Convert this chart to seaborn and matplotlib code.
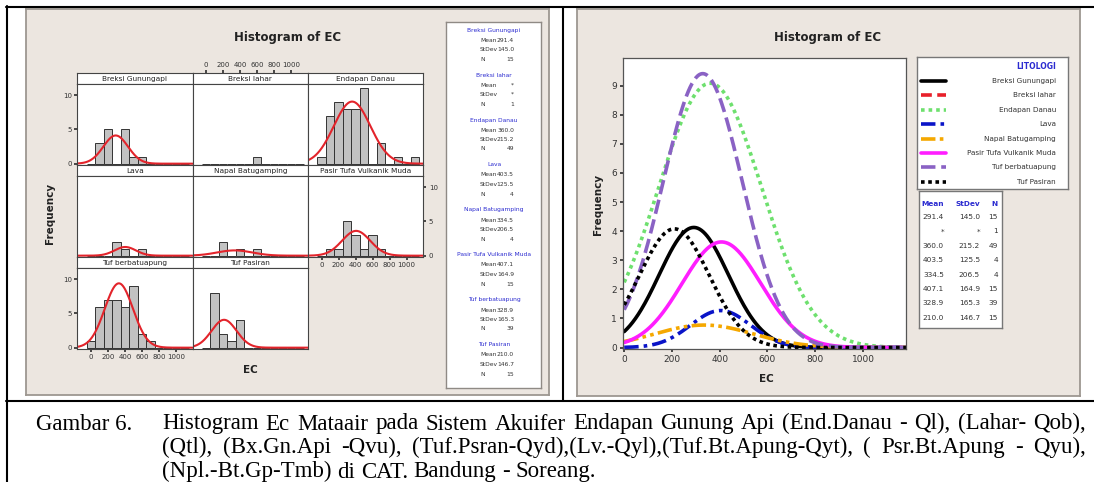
import numpy as np
import pandas as pd
import seaborn as sns
import matplotlib.pyplot as plt
from matplotlib.lines import Line2D

sns.set_theme(style='white')
plt.rcParams['font.family'] = ['DejaVu Sans']

W, H = 1094, 482

# values
lithology = ['Breksi Gunungapi', 'Breksi lahar', 'Endapan Danau', 'Lava',
             'Napal Batugamping', 'Pasir Tufa Vulkanik Muda', 'Tuf berbatuapung', 'Tuf Pasiran']
mean_txt = ['291.4', '*', '360.0', '403.5', '334.5', '407.1', '328.9', '210.0']
sd_txt = ['145.0', '*', '215.2', '125.5', '206.5', '164.9', '165.3', '146.7']
n_obs = [15, 1, 49, 4, 4, 15, 39, 15]

bin_mid = [0, 100, 200, 300, 400, 500, 600, 700, 800, 900, 1000, 1100]
counts_breksi_gunungapi = [0, 3, 5, 0, 5, 1, 1, 0, 0, 0, 0, 0]
counts_breksi_lahar = [0, 0, 0, 0, 0, 0, 1, 0, 0, 0, 0, 0]
counts_endapan_danau = [1, 7, 9, 8, 8, 11, 0, 3, 0, 1, 0, 1]
counts_lava = [0, 0, 0, 2, 1, 0, 1, 0, 0, 0, 0, 0]
counts_napal = [0, 0, 2, 0, 1, 0, 1, 0, 0, 0, 0, 0]
counts_pasir = [0, 1, 1, 5, 3, 1, 3, 1, 0, 0, 0, 0]
counts_tuf_berbatuapung = [1, 6, 7, 7, 6, 9, 2, 1, 0, 0, 0, 0]
counts_tuf_pasiran = [0, 8, 2, 1, 4, 0, 0, 0, 0, 0, 0, 0]
panel_counts = [counts_breksi_gunungapi, counts_breksi_lahar, counts_endapan_danau, counts_lava,
                counts_napal, counts_pasir, counts_tuf_berbatuapung, counts_tuf_pasiran]

line_colors = ['#000000', '#e8202a', '#6ee06e', '#0a14c8', '#f5a800', '#ff1eff', '#8a62c4', '#000000']
line_dashes = ['', (3, 1.5), (1, 1.1), (4, 1.4, 1, 1.4), (4, 1.2, 1, 1.2, 1, 1.2), '', (4, 1.6), (1, 1)]

caption_lines = [
    'Histogram Ec Mataair pada Sistem Akuifer Endapan Gunung Api (End.Danau - Ql), (Lahar- Qob),',
    '(Qtl), (Bx.Gn.Api -Qvu), (Tuf.Psran-Qyd),(Lv.-Qyl),(Tuf.Bt.Apung-Qyt), ( Psr.Bt.Apung - Qyu),',
    '(Npl.-Bt.Gp-Tmb) di CAT. Bandung - Soreang.',
]

BEIGE = '#ece6e0'
BLUE = '#2b2bd0'


def box(x0, y0, x1, y1):
    return [x0 / W, 1 - y1 / H, (x1 - x0) / W, (y1 - y0) / H]


def fx(x):
    return x / W


def fy(y):
    return 1 - y / H


def normal_fit(xs, mean, sd, n):
    return n * 100 * np.exp(-0.5 * ((xs - mean) / sd) ** 2) / (sd * np.sqrt(2 * np.pi))


def plain(ax, edge='#8f8a85', lw=1.0):
    ax.set_xticks([])
    ax.set_yticks([])
    for s in ax.spines.values():
        s.set_color(edge)
        s.set_linewidth(lw)


fig = plt.figure(figsize=(W / 100, H / 100), dpi=100)

# beige chart backgrounds
for rect in [(26, 9.5, 549, 395), (577, 9.5, 1080, 396)]:
    bg = fig.add_axes(box(*rect))
    bg.set_facecolor(BEIGE)
    plain(bg, '#9d9791', 1.3)

# ---------------- left chart: paneled histograms ----------------
fig.text(fx(288), fy(37), 'Histogram of EC', ha='center', va='center', fontsize=8.5, fontweight='bold', color='#222')
fig.text(fx(50), fy(213), 'Frequency', rotation=90, ha='center', va='center', fontsize=7.5, fontweight='bold', color='#222')
fig.text(fx(250), fy(370), 'EC', ha='center', va='center', fontsize=7.5, fontweight='bold', color='#222')

edges = list(range(-50, 1200, 100))
xlim_l = (-160, 1196)
grid_l = np.linspace(xlim_l[0], xlim_l[1], 300)
cols_x = [77.3, 192.6, 307.9]
pw = 115.3
strip_h, plot_h = 11, 81
top0 = 72.7
xt = [0, 200, 400, 600, 800, 1000]

for i, name in enumerate(lithology):
    r, c = divmod(i, 3)
    x0 = cols_x[c]
    ys = top0 + r * (strip_h + plot_h)
    sax = fig.add_axes(box(x0, ys, x0 + pw, ys + strip_h))
    sax.set_facecolor('white')
    plain(sax, '#444444', 0.8)
    sax.set_xlim(xlim_l)
    sax.text(0.5, 0.45, name, transform=sax.transAxes, ha='center', va='center', fontsize=5.3, color='#222')

    pax = fig.add_axes(box(x0, ys + strip_h, x0 + pw, ys + strip_h + plot_h))
    pax.set_facecolor('white')
    hist_df = pd.DataFrame({'EC': bin_mid, 'count': panel_counts[i]})
    sns.histplot(data=hist_df, x='EC', weights='count', bins=edges, ax=pax,
                 color='#c2c2c2', edgecolor='#333333', linewidth=0.7, alpha=1)
    if sd_txt[i] != '*':
        fit = normal_fit(grid_l, float(mean_txt[i]), float(sd_txt[i]), n_obs[i])
        sns.lineplot(x=grid_l, y=fit, ax=pax, color='#e3242b', linewidth=1.5)
    pax.set_xlim(xlim_l)
    pax.set_ylim(-0.15, 11.7)
    pax.set(xlabel='', ylabel='')
    pax.set_xticks(xt)
    pax.set_yticks([0, 5, 10])
    pax.tick_params(length=0, labelbottom=False, labelleft=False, labelsize=5, colors='#333333', pad=1.5)
    for s in pax.spines.values():
        s.set_color('#444444')
        s.set_linewidth(0.8)
    if c == 0 and r in (0, 2):
        pax.tick_params(axis='y', left=True, length=2.5, labelleft=True)
    if r == 1 and c == 2:
        pax.tick_params(axis='y', right=True, length=2.5, labelright=True)
    if (r == 2 and c == 0) or (r == 1 and c == 2):
        pax.tick_params(axis='x', bottom=True, length=2.5, labelbottom=True)
    if r == 0 and c == 1:
        sax.set_xticks(xt)
        sax.tick_params(axis='x', top=True, labeltop=True, bottom=False, labelbottom=False,
                        length=2.5, labelsize=5, colors='#333333', pad=1)

# summary box on the right of the left chart
bax = fig.add_axes(box(446, 22, 541, 388))
bax.set_facecolor('white')
plain(bax, '#8f8a85', 1.0)
bax.set_xlim(446, 541)
bax.set_ylim(388, 22)
for i, name in enumerate(lithology):
    y0 = 30 + i * 45
    bax.text(494, y0, name, ha='center', va='center', fontsize=4.3, color=BLUE)
    for k, (lab, val) in enumerate([('Mean', mean_txt[i]), ('StDev', sd_txt[i]), ('N', str(n_obs[i]))]):
        bax.text(480, y0 + 10 + k * 9.5, lab, ha='left', va='center', fontsize=4.3, color='#333')
        bax.text(514, y0 + 10 + k * 9.5, val, ha='right', va='center', fontsize=4.3, color='#333')

# ---------------- right chart: fitted normal curves ----------------
fig.text(fx(828), fy(37), 'Histogram of EC', ha='center', va='center', fontsize=8.5, fontweight='bold', color='#222')
fig.text(fx(598), fy(204), 'Frequency', rotation=90, ha='center', va='center', fontsize=7.5, fontweight='bold', color='#222')
fig.text(fx(766), fy(379), 'EC', ha='center', va='center', fontsize=7.5, fontweight='bold', color='#222')

grid_r = np.linspace(0, 1180, 300)
rows = []
for i, name in enumerate(lithology):
    if sd_txt[i] == '*':
        continue
    fit = normal_fit(grid_r, float(mean_txt[i]), float(sd_txt[i]), n_obs[i])
    rows.append(pd.DataFrame({'EC': grid_r, 'Frequency': fit, 'LITOLOGI': name}))
curves = pd.concat(rows, ignore_index=True)
shown = [n for n in lithology if n in set(curves['LITOLOGI'])]

rax = fig.add_axes(box(623, 58, 906, 349))
rax.set_facecolor('white')
sns.lineplot(data=curves, x='EC', y='Frequency', hue='LITOLOGI', style='LITOLOGI',
             hue_order=shown, style_order=shown,
             palette={n: line_colors[lithology.index(n)] for n in shown},
             dashes={n: line_dashes[lithology.index(n)] for n in shown},
             linewidth=2.6, legend=False, ax=rax)
rax.set_xlim(-5, 1180)
rax.set_ylim(-0.05, 9.95)
rax.set(xlabel='', ylabel='')
rax.set_xticks(xt)
rax.set_yticks(range(10))
rax.tick_params(bottom=True, left=True, length=2.5, labelsize=6.5, colors='#333333', pad=2)
for s in rax.spines.values():
    s.set_color('#555555')
    s.set_linewidth(0.9)

# legend box
lax = fig.add_axes(box(917, 57, 1068, 189))
lax.set_facecolor('white')
plain(lax, '#777777', 1.0)
lax.set_xlim(917, 1068)
lax.set_ylim(189, 57)
lax.text(1056, 67, 'LITOLOGI', ha='right', va='center', fontsize=5.5, color=BLUE, fontweight='bold')
for i, name in enumerate(lithology):
    y = 81 + i * 14.4
    d = line_dashes[i]
    kw = dict(linestyle='-') if d == '' else dict(dashes=d)
    lax.plot([921, 946], [y, y], color=line_colors[i], lw=2.6, **kw)
    lax.text(1056, y, name, ha='right', va='center', fontsize=5.2, color='#333')

# statistics table
tax = fig.add_axes(box(919, 191, 1002, 328))
tax.set_facecolor('white')
plain(tax, '#777777', 1.0)
tax.set_xlim(919, 1002)
tax.set_ylim(328, 191)
for x, lab in zip([944, 980, 998], ['Mean', 'StDev', 'N']):
    tax.text(x, 204, lab, ha='right', va='center', fontsize=5.3, color=BLUE, fontweight='bold')
for i in range(len(lithology)):
    y = 217 + i * 14.4
    for x, val in zip([944, 980, 998], [mean_txt[i], sd_txt[i], str(n_obs[i])]):
        tax.text(x, y, val, ha='right', va='center', fontsize=5.3, color='#333')

# ---------------- table rules and caption ----------------
for xa, ya, xb, yb in [(6, 7, 1094, 7), (7, 6, 7, 482), (563, 7, 563, 401), (6, 401, 1094, 401)]:
    fig.add_artist(Line2D([fx(xa), fx(xb)], [fy(ya), fy(yb)], color='black', lw=1.5))

cap = dict(family='Liberation Serif', fontsize=16.5, color='black', va='baseline')
baselines = [429.5, 453.5, 477.5]
fig.text(fx(36), fy(baselines[0]), 'Gambar 6.', **cap)
renderer = fig.canvas.get_renderer()
for j, line in enumerate(caption_lines):
    words = line.split()
    objs = [fig.text(0, fy(baselines[j]), w, **cap) for w in words]
    widths = [o.get_window_extent(renderer).width for o in objs]
    if j < 2:
        gap = (1086 - 162 - sum(widths)) / (len(words) - 1)
    else:
        gap = 5.7
    x = 162
    for o, w in zip(objs, widths):
        o.set_x(fx(x))
        x += w + gap

fig.savefig('out.png', dpi=100)
